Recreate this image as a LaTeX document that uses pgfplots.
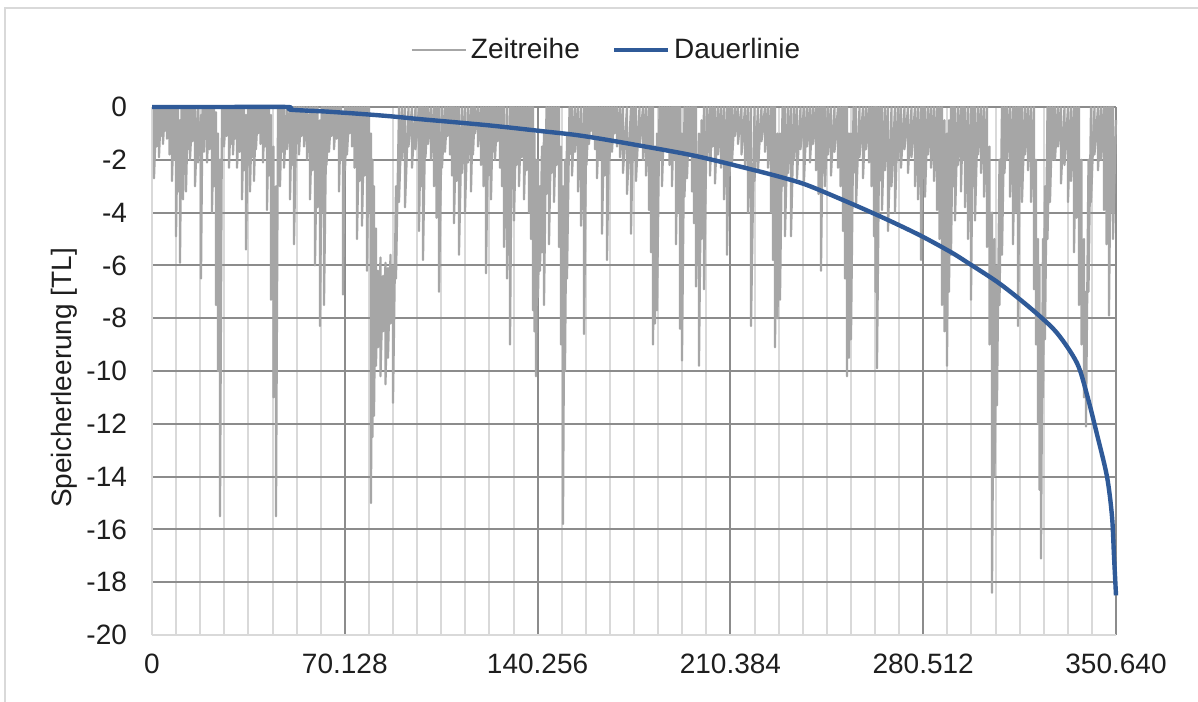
\documentclass[border=0pt]{standalone}
\usepackage{pgfplots}
\pgfplotsset{compat=1.18}
\usepackage{fontspec}
\setmainfont{Liberation Sans}

\definecolor{serie}{RGB}{166,166,166}
\definecolor{dauer}{RGB}{47,90,152}
\definecolor{gridmaj}{RGB}{140,140,140}
\definecolor{gridmin}{RGB}{217,217,217}
\definecolor{txt}{RGB}{30,30,30}
\newcommand\chartfont{\fontsize{14bp}{16bp}\selectfont}

\begin{document}
\begin{tikzpicture}
\useasboundingbox (0,0) rectangle (599bp,351bp);
\fill[white] (0,0) rectangle (599bp,351bp);
\draw[gridmin, line width=0.8bp] (2.5bp,0) -- (2.5bp,347bp) -- (599bp,347bp);
\begin{axis}[
  at={(76bp,33.5bp)}, anchor=south west,
  scale only axis, width=482bp, height=264bp,
  xmin=0, xmax=350640, ymin=-20, ymax=0,
  clip=false,
  axis x line*=bottom, axis y line*=left,
  axis line style={draw=gridmin, line width=1bp, -},
  major tick length=0pt, minor tick length=0pt,
  scaled x ticks=false,
  xtick={70128,140256,210384,280512,350640},
  xticklabels={70.128,140.256,210.384,280.512,350.640},
  extra x ticks={0}, extra x tick labels={0},
  extra x tick style={grid=none},
  minor xtick={8766,17532,26298,35064,43830,52596,61362,
    78894,87660,96426,105192,113958,122724,131490,
    149022,157788,166554,175320,184086,192852,201618,
    219150,227916,236682,245448,254214,262980,271746,
    289278,298044,306810,315576,324342,333108,341874},
  ytick={-18,-16,...,0},
  yticklabels={-18,-16,-14,-12,-10,-8,-6,-4,-2,0},
  extra y ticks={-20}, extra y tick labels={-20},
  extra y tick style={grid=none},
  xmajorgrids, xminorgrids, ymajorgrids,
  major grid style={draw=gridmaj, line width=1bp},
  minor grid style={draw=gridmin, line width=1bp},
  tick label style={font=\chartfont, text=txt},
  xticklabel style={yshift=-6bp},
  yticklabel style={xshift=-9bp},
  ylabel={Speicherleerung [TL]},
  ylabel style={at={(axis description cs:-0.0913,0.487)}, anchor=center, font=\chartfont, text=txt},
  legend style={at={(axis description cs:0.4725,1.108)}, anchor=center, draw=none, fill=none,
    legend columns=2, font=\chartfont, text=txt, inner sep=0pt,
    /tikz/every even column/.append style={column sep=14bp}},
  legend image code/.code={\draw[#1] (0bp,0bp) -- (27bp,0bp);},
]
% Zeitreihe: je Spalte oberer und unterer Wert
\addplot[draw=serie, line width=1.1bp, line join=round, no markers] coordinates {
(0,0)
(727,0) (727,-2.7) (1636,0) (1636,-1.5) (2546,0) (2546,-1.9) (3273,0) (3273,-1.1)
(4001,0) (4001,-1.4) (4728,0) (4728,-0.9) (5456,0) (5456,-1.2) (6365,0) (6365,-1.8)
(7275,0) (7275,-2.8) (8002,0) (8002,-2.0) (8730,0) (8730,-4.9) (9457,0) (9457,-3.2)
(10184,-0.5) (10184,-5.9) (10730,0) (10730,-2.5) (11276,0) (11276,-3.5) (11821,0) (11821,-2.2)
(12367,0) (12367,-3.2) (13094,0) (13094,-1.6) (13822,0) (13822,-2.0) (14731,0) (14731,-1.3)
(15640,0) (15640,-3.0) (16731,0) (16731,-2.1) (17823,-0.3) (17823,-6.5) (18368,0) (18368,-1.2)
(18914,0) (18914,-1.7) (19459,0) (19459,-1.0) (20005,0) (20005,-2.1) (20914,0) (20914,-1.6)
(21824,0) (21824,-4.0) (22551,0) (22551,-3.0) (23279,-0.2) (23279,-7.5) (24006,-1) (24006,-10.0)
(24734,-2) (24734,-15.5) (25461,0) (25461,-1.0) (26189,0) (26189,-1.5) (27098,0) (27098,-1.1)
(28007,0) (28007,-2.3) (28734,0) (28734,-1.4) (29462,0) (29462,-1.8) (30189,0) (30189,-1.2)
(30917,0) (30917,-2.3) (31826,0) (31826,-1.7) (32736,0) (32736,-3.5) (33463,0) (33463,-2.4)
(34191,-0.3) (34191,-5.4) (34918,0) (34918,-2.2) (35646,0) (35646,-3.2) (36373,0) (36373,-1.9)
(37100,0) (37100,-2.8) (37828,0) (37828,-1.6) (38555,0) (38555,-1.0) (39465,0) (39465,-1.4)
(40374,0) (40374,-2.1) (41101,0) (41101,-1.5) (41829,0) (41829,-3.9) (42556,0) (42556,-2.6)
(43284,-0.3) (43284,-7.3) (44193,-1.5) (44193,-11.0) (45103,-3) (45103,-15.5) (45830,0) (45830,-1.3)
(46557,0) (46557,-3.0) (47285,0) (47285,-1.7) (48012,0) (48012,-2.3) (49104,0) (49104,-1.6)
(50195,0) (50195,-3.5) (50922,0) (50922,-2.2) (51650,0) (51650,-5.2) (52559,0) (52559,-1.4)
(53468,0) (53468,-1.8) (54378,0) (54378,-1.1) (55287,0) (55287,-1.5) (56378,0) (56378,-2.0)
(57469,0) (57469,-3.5) (58379,0) (58379,-2.4) (59288,0) (59288,-6.0) (60197,0) (60197,-3.8)
(61107,-0.5) (61107,-8.3) (61834,0) (61834,-4.0) (62562,0) (62562,-7.5) (63471,0) (63471,-2.2)
(64380,0) (64380,-1.7) (65290,0) (65290,-1.1) (66199,0) (66199,-1.6) (67108,0) (67108,-1.2)
(68018,0) (68018,-3.2) (68745,0) (68745,-2.0) (69472,-0.3) (69472,-7.1) (70200,0) (70200,-2.4)
(70927,0) (70927,-1.8) (71836,0) (71836,-1.0) (72746,0) (72746,-1.5) (73655,0) (73655,-2.3)
(74565,0) (74565,-5.0) (75474,0) (75474,-2.8) (76383,0) (76383,-4.5) (77292,0) (77292,-2.6)
(78202,0) (78202,-6.2) (78929,0) (78929,-4.0) (79657,-1) (79657,-15.0) (80202,-2) (80202,-12.5)
(80748,-3) (80748,-11.7) (81475,-4.6) (81475,-9.8) (82203,-6.2) (82203,-9.1) (83112,-5.7) (83112,-10.2)
(84022,-6.4) (84022,-8.5) (84931,-5.9) (84931,-10.5) (85840,-6.1) (85840,-9.5) (86749,-5.6) (86749,-8.2)
(87659,-6.0) (87659,-11.2) (88750,-3) (88750,-6.5) (89841,0) (89841,-3.6) (90932,0) (90932,-2.0)
(92024,0) (92024,-3.8) (93297,0) (93297,-1.5) (94570,0) (94570,-2.3) (95843,0) (95843,-1.6)
(97116,0) (97116,-4.7) (97843,0) (97843,-3.0) (98571,0) (98571,-5.8) (99480,0) (99480,-1.9)
(100389,0) (100389,-1.4) (101480,0) (101480,-2.0) (102572,0) (102572,-3.0) (103481,0) (103481,-4.2)
(104391,0) (104391,-7.0) (105482,0) (105482,-2.3) (106573,0) (106573,-1.7) (107482,0) (107482,-1.1)
(108392,0) (108392,-1.8) (109119,0) (109119,-2.6) (109846,0) (109846,-4.4) (110755,0) (110755,-2.8)
(111665,0) (111665,-5.6) (112756,0) (112756,-2.5) (113847,0) (113847,-4.0) (114938,0) (114938,-2.1)
(116030,0) (116030,-3.2) (116757,0) (116757,-1.8) (117485,0) (117485,-1.0) (118576,0) (118576,-1.5)
(119667,0) (119667,-2.2) (120576,0) (120576,-3.0) (121486,0) (121486,-6.3) (122395,0) (122395,-2.6)
(123304,0) (123304,-3.5) (124031,0) (124031,-1.7) (124759,0) (124759,-2.0) (125668,0) (125668,-1.3)
(126578,0) (126578,-2.3) (127305,0) (127305,-3.0) (128033,0) (128033,-5.3) (129124,0) (129124,-6.5)
(130215,0) (130215,-9.0) (130942,0) (130942,-3.1) (131670,0) (131670,-4.3) (132579,0) (132579,-2.2)
(133489,0) (133489,-3.0) (134398,0) (134398,-1.9) (135308,0) (135308,-3.5) (136217,0) (136217,-2.4)
(137126,0) (137126,-4.0) (137853,0) (137853,-5.0) (138581,0) (138581,-7.7) (139126,-1) (139126,-8.5)
(139672,-2) (139672,-10.2) (140399,-2) (140399,-7.2) (141127,-3) (141127,-6.2) (141854,-1.5) (141854,-5.5)
(142582,-1) (142582,-7.5) (143491,0) (143491,-3.3) (144401,0) (144401,-5.2) (145310,0) (145310,-2.5)
(146219,0) (146219,-3.6) (147128,0) (147128,-2.2) (148038,0) (148038,-5.3) (148765,-1.5) (148765,-9.0)
(149493,-3) (149493,-15.8) (150220,-2) (150220,-10.0) (150948,-1) (150948,-6.5) (151857,0) (151857,-1.8)
(152767,0) (152767,-2.6) (153858,0) (153858,-1.7) (154949,0) (154949,-3.2) (156040,0) (156040,-4.5)
(157131,0) (157131,-8.6) (158040,0) (158040,-2.2) (158950,0) (158950,-1.4) (159677,0) (159677,-0.9)
(160405,0) (160405,-1.2) (161132,0) (161132,-1.6) (161860,0) (161860,-2.7) (162769,0) (162769,-2.0)
(163679,0) (163679,-4.8) (164588,0) (164588,-2.6) (165497,0) (165497,-5.8) (166406,0) (166406,-2.0)
(167316,0) (167316,-1.7) (168225,0) (168225,-1.0) (169134,0) (169134,-1.5) (170225,0) (170225,-1.9)
(171317,0) (171317,-2.5) (172772,0) (172772,-3.3) (174227,0) (174227,-4.8) (175136,0) (175136,-2.0)
(176045,0) (176045,-2.8) (177318,0) (177318,-1.5) (178591,0) (178591,-2.0) (179682,0) (179682,-2.6)
(180774,0) (180774,-3.9) (181501,0) (181501,-5.5) (182229,0) (182229,-9.0) (182956,-1.5) (182956,-8.2)
(183684,-1) (183684,-7.7) (184593,0) (184593,-2.0) (185502,0) (185502,-3.0) (186411,0) (186411,-1.6)
(187321,0) (187321,-1.7) (188230,0) (188230,-2.2) (189140,0) (189140,-3.0) (189867,0) (189867,-2.0)
(190595,0) (190595,-5.2) (191322,0) (191322,-4.0) (192049,0) (192049,-8.4) (192777,-1) (192777,-9.6)
(193686,0) (193686,-3.4) (194596,0) (194596,-2.7) (195505,0) (195505,-1.8) (196414,0) (196414,-3.2)
(197141,0) (197141,-4.4) (197869,0) (197869,-6.8) (198960,-1) (198960,-9.8) (199870,-0.5) (199870,-5.0)
(200779,0) (200779,-6.9) (201870,0) (201870,-2.0) (202961,0) (202961,-2.6) (203870,0) (203870,-1.5)
(204780,0) (204780,-2.9) (205871,0) (205871,-1.8) (206962,0) (206962,-2.3) (208053,0) (208053,-3.5)
(209145,0) (209145,-5.6) (210054,0) (210054,-2.6) (210963,0) (210963,-2.1) (212054,0) (212054,-1.1)
(213146,0) (213146,-1.4) (214419,0) (214419,-1.8) (215692,0) (215692,-2.3) (216783,0) (216783,-4.0)
(217874,0) (217874,-8.3) (219147,0) (219147,-2.8) (220420,0) (220420,-2.4) (221693,0) (221693,-1.3)
(222966,0) (222966,-1.7) (224057,0) (224057,-2.3) (225149,0) (225149,-4.0) (225876,0) (225876,-5.8)
(226604,0) (226604,-9.1) (227513,-1) (227513,-8.0) (228422,-1) (228422,-7.3) (229331,0) (229331,-3.0)
(230241,0) (230241,-4.9) (231332,0) (231332,-2.5) (232423,0) (232423,-4.9) (233514,0) (233514,-2.0)
(234606,0) (234606,-2.7) (235879,0) (235879,-1.6) (237152,0) (237152,-2.8) (238243,0) (238243,-1.5)
(239334,0) (239334,-2.1) (240425,0) (240425,-1.4) (241517,0) (241517,-2.4) (242426,0) (242426,-3.3)
(243335,0) (243335,-6.2) (244062,0) (244062,-2.5) (244790,0) (244790,-3.0) (245881,0) (245881,-1.8)
(246973,0) (246973,-2.6) (248246,0) (248246,-1.7) (249519,0) (249519,-2.3) (250428,0) (250428,-3.0)
(251337,0) (251337,-4.7) (252065,0) (252065,-6.5) (252792,0) (252792,-10.2) (253519,-1) (253519,-9.5)
(254247,-1) (254247,-8.8) (255156,0) (255156,-2.5) (256066,0) (256066,-3.8) (257339,0) (257339,-1.9)
(258612,0) (258612,-2.7) (259703,0) (259703,-1.6) (260794,0) (260794,-2.1) (261703,0) (261703,-3.0)
(262613,0) (262613,-4.9) (263158,0) (263158,-7.0) (263704,0) (263704,-9.9) (264613,0) (264613,-2.8)
(265523,0) (265523,-3.9) (266614,0) (266614,-2.4) (267705,0) (267705,-4.7) (268978,0) (268978,-3.0)
(270251,0) (270251,-4.0) (271342,0) (271342,-2.0) (272434,0) (272434,-2.3) (273707,0) (273707,-1.6)
(274980,0) (274980,-2.5) (276253,0) (276253,-1.9) (277526,0) (277526,-3.0) (278617,0) (278617,-3.5)
(279708,0) (279708,-5.8) (280435,0) (280435,-2.7) (281163,0) (281163,-3.4) (282254,0) (282254,-1.8)
(283346,0) (283346,-2.3) (284437,0) (284437,-2.8) (285528,0) (285528,-3.9) (286437,0) (286437,-5.0)
(287347,0) (287347,-7.5) (288256,-0.5) (288256,-8.5) (289165,-1) (289165,-9.8) (289892,-0.5) (289892,-7.0)
(290620,0) (290620,-5.6) (291347,0) (291347,-3.0) (292075,0) (292075,-4.3) (293166,0) (293166,-2.2)
(294258,0) (294258,-3.2) (294985,0) (294985,-2.0) (295712,0) (295712,-3.8) (296803,0) (296803,-5.0)
(297895,0) (297895,-7.3) (298622,0) (298622,-3.0) (299350,0) (299350,-4.3) (300441,0) (300441,-1.8)
(301532,0) (301532,-2.5) (302623,0) (302623,-3.4) (303715,0) (303715,-5.3) (304624,-1.5) (304624,-9.0)
(305533,-4) (305533,-18.4) (306442,-5) (306442,-14.0) (307352,-6) (307352,-11.3) (308261,-2) (308261,-7.5)
(309171,0) (309171,-5.6) (310080,0) (310080,-2.5) (310989,0) (310989,-2.0) (312080,0) (312080,-3.4)
(313172,0) (313172,-5.2) (314081,0) (314081,-4.0) (314990,0) (314990,-8.3) (315717,0) (315717,-3.0)
(316445,0) (316445,-3.6) (317536,0) (317536,-1.8) (318627,0) (318627,-2.4) (319718,0) (319718,-3.6)
(320810,0) (320810,-6.9) (321537,-2) (321537,-9.0) (322265,-5) (322265,-12.0) (322810,-6) (322810,-14.5)
(323356,-8) (323356,-17.1) (324083,-5) (324083,-11.0) (324811,-3) (324811,-8.8) (325720,0) (325720,-5.0)
(326630,0) (326630,-3.6) (327539,0) (327539,-2.0) (328448,0) (328448,-2.0) (329539,0) (329539,-1.5)
(330631,0) (330631,-2.9) (331904,0) (331904,-2.2) (333177,0) (333177,-3.6) (334268,0) (334268,-2.8)
(335359,0) (335359,-5.5) (336268,0) (336268,-4.2) (337178,0) (337178,-7.5) (338087,-2) (338087,-9.0)
(338996,-5) (338996,-11.0) (339724,-7) (339724,-12.1) (340633,-2) (340633,-7.0) (341542,0) (341542,-3.6)
(342815,0) (342815,-1.8) (344089,0) (344089,-2.4) (345180,0) (345180,-2.0) (346271,0) (346271,-3.9)
(347180,0) (347180,-5.2) (348090,0) (348090,-7.9) (348817,0) (348817,-4.0) (349545,0) (349545,-5.0)
(350640,-0.5)
};
\addlegendentry{Zeitreihe}
% Dauerlinie (sortierte Zeitreihe)
\addplot[draw=dauer, line width=2.2bp, line join=round, no markers, smooth, tension=0.5] coordinates {
(0,0) (24000,0) (49104,0) (50195,-0.1) (62925,-0.17) (75656,-0.26) (86568,-0.35)
(97480,-0.46) (108392,-0.56) (120031,-0.67) (130215,-0.78) (142218,-0.92)
(153494,-1.05) (162951,-1.2) (176773,-1.45) (197505,-1.85) (218602,-2.38)
(231332,-2.73) (239334,-3.0) (255702,-3.72) (267705,-4.28) (279708,-4.88)
(290620,-5.5) (296440,-5.88) (308443,-6.7) (320446,-7.7) (329176,-8.56)
(336450,-9.7) (340088,-10.9) (343725,-12.4) (347362,-14.0) (349181,-15.5)
(349908,-17.0) (350640,-18.5)
};
\addlegendentry{Dauerlinie}
\end{axis}
\end{tikzpicture}
\end{document}
